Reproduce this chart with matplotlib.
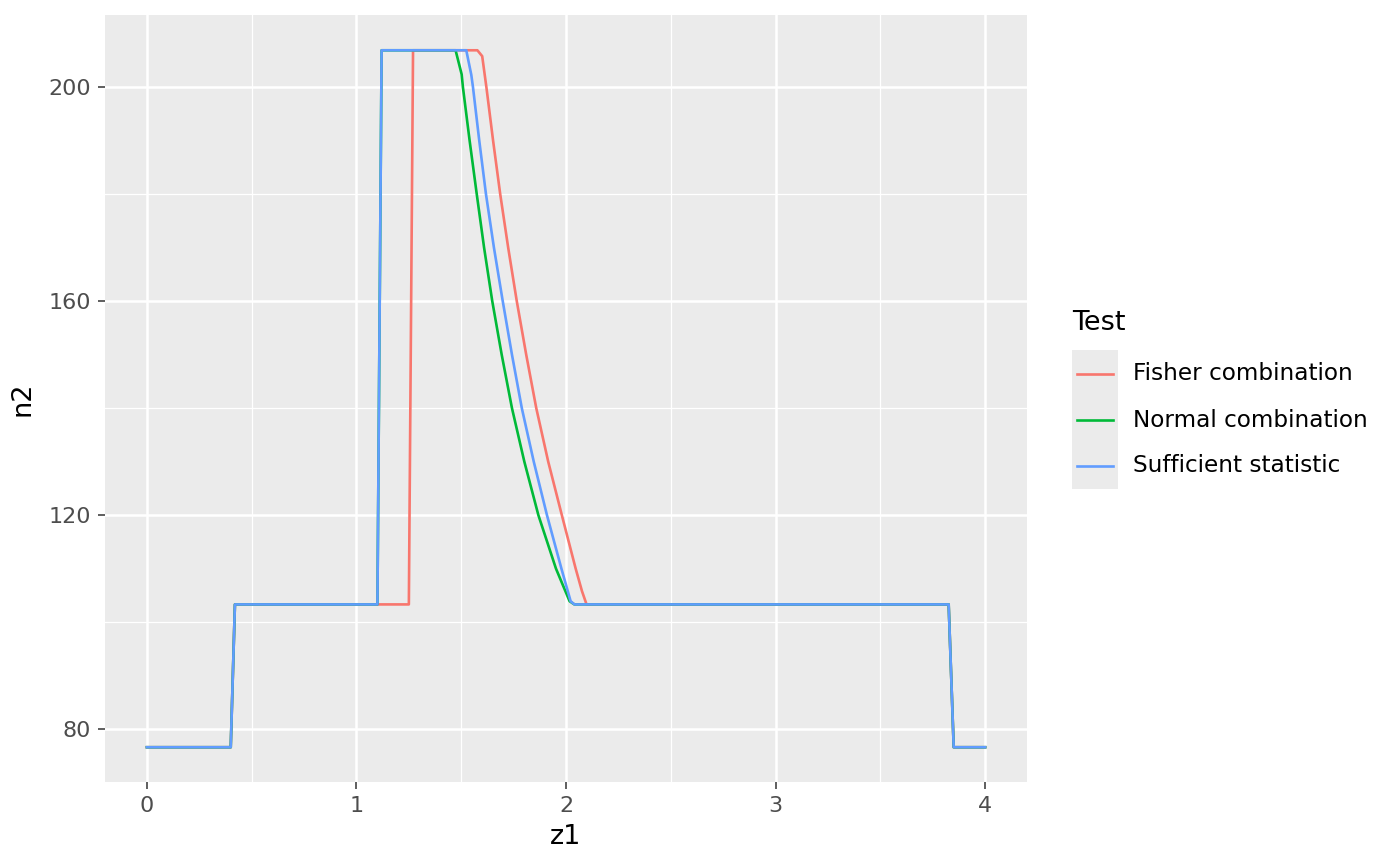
import matplotlib
matplotlib.use("Agg")
import matplotlib.pyplot as plt
from matplotlib.lines import Line2D
from matplotlib.patches import Rectangle

# values
fisher_z1 = [0.0, 0.40, 0.42, 1.25, 1.27, 1.577, 1.600, 1.620, 1.652, 1.686, 1.724,
             1.765, 1.810, 1.858, 1.915, 1.980, 2.046, 2.076, 2.098, 3.826, 3.85, 4.0]
fisher_n2 = [76.6, 76.6, 103.3, 103.3, 206.9, 206.9, 205.8, 200.0, 190.0, 180.0, 170.0,
             160.0, 150.0, 140.0, 130.0, 120.0, 110.0, 105.8, 103.3, 103.3, 76.6, 76.6]

normal_z1 = [0.0, 0.40, 0.42, 1.10, 1.12, 1.473, 1.502, 1.508, 1.540, 1.574, 1.609,
             1.648, 1.693, 1.742, 1.801, 1.868, 1.952, 2.017, 2.04, 3.826, 3.85, 4.0]
normal_n2 = [76.6, 76.6, 103.3, 103.3, 206.9, 206.9, 202.4, 200.0, 190.0, 180.0, 170.0,
             160.0, 150.0, 140.0, 130.0, 120.0, 110.0, 103.9, 103.3, 103.3, 76.6, 76.6]

suff_z1 = [0.0, 0.40, 0.42, 1.10, 1.12, 1.524, 1.548, 1.556, 1.586, 1.618, 1.656,
           1.698, 1.742, 1.789, 1.846, 1.909, 1.978, 2.022, 2.04, 3.826, 3.85, 4.0]
suff_n2 = [76.6, 76.6, 103.3, 103.3, 206.9, 206.9, 202.3, 200.0, 190.0, 180.0, 170.0,
           160.0, 150.0, 140.0, 130.0, 120.0, 110.0, 103.9, 103.3, 103.3, 76.6, 76.6]

labels = ["Fisher combination", "Normal combination", "Sufficient statistic"]
colors = ["#F8766D", "#00BA38", "#619CFF"]

fig = plt.figure(figsize=(14, 8.66), dpi=100)
ax = fig.add_axes([0.075, 0.097, 0.6586, 0.8857])
ax.set_facecolor("#EBEBEB")

# grid like ggplot
for v in [0.5, 1.5, 2.5, 3.5]:
    ax.axvline(v, color="white", lw=0.9, zorder=0)
for v in [100, 140, 180]:
    ax.axhline(v, color="white", lw=0.9, zorder=0)
for v in [0, 1, 2, 3, 4]:
    ax.axvline(v, color="white", lw=1.8, zorder=0)
for v in [80, 120, 160, 200]:
    ax.axhline(v, color="white", lw=1.8, zorder=0)

series = [(fisher_z1, fisher_n2), (normal_z1, normal_n2), (suff_z1, suff_n2)]
for (x, y), c, lab in zip(series, colors, labels):
    ax.plot(x, y, color=c, lw=1.9, label=lab)

ax.set_xlim(-0.2, 4.2)
ax.set_ylim(70.1, 213.5)
ax.set_xticks([0, 1, 2, 3, 4])
ax.set_yticks([80, 120, 160, 200])
ax.tick_params(length=5, width=1.1, pad=5, color="#333333", labelcolor="#4D4D4D",
               labelsize=16)
for s in ax.spines.values():
    s.set_visible(False)
ax.set_xlabel("z1", fontsize=19.5, labelpad=6)
ax.set_ylabel("n2", fontsize=19.5, labelpad=9)

# legend drawn by hand to get the grey key panel
W, H = 1400.0, 866.0
fig.text(1072 / W, 1 - 323 / H, "Test", fontsize=19.5, va="center", ha="left")
fig.patches.append(Rectangle((1072 / W, 1 - 489 / H), 46 / W, 139 / H,
                             transform=fig.transFigure, facecolor="#EBEBEB",
                             edgecolor="none", zorder=0))
for i, (c, lab) in enumerate(zip(colors, labels)):
    yy = 1 - (374 + 46 * i) / H
    fig.lines.append(Line2D([1077 / W, 1113 / W], [yy, yy], transform=fig.transFigure,
                            color=c, lw=1.9))
    fig.text(1133 / W, yy, lab, fontsize=16.7, va="center", ha="left")

fig.savefig("out.png", dpi=100)
